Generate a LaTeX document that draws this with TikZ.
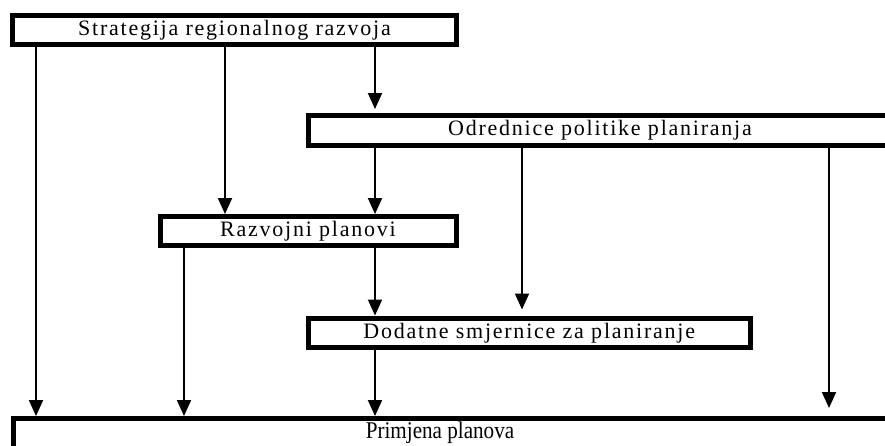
\documentclass[tikz,border=0pt]{standalone}
\usepackage{fontspec}
\setmainfont{Liberation Serif}
\usepackage{tikz}
\usetikzlibrary{arrows.meta}
\usetikzlibrary{calc}

\tikzset{
  kutija/.style={draw=black, line width=5pt, fill=white, inner sep=0pt,
    font=\fontsize{22}{22}\selectfont\addfontfeature{LetterSpace=8}},
  strelica/.style={line width=2pt, -{Triangle[width=14pt,length=16pt]}}
}

\begin{document}
\begin{tikzpicture}[x=1pt,y=-1pt]
  \useasboundingbox (0,0) rectangle (885,445);
  %% kutije
  \node[kutija, minimum width=444pt, minimum height=29pt] (strat) at (234.5,30) {Strategija regionalnog razvoja};
  \node[kutija, minimum width=584pt, minimum height=29.5pt] (odr) at (600,130.25) {Odrednice politike planiranja};
  \node[kutija, minimum width=296pt, minimum height=29pt] (razv) at (308,231) {Razvojni planovi};
  \node[kutija, minimum width=442.5pt, minimum height=29.5pt] (dod) at (529.25,332.75) {Dodatne smjernice za planiranje};
  \node[kutija, minimum width=987pt, minimum height=51.5pt] (prim) at (506.5,444.25) {};
  \node[font=\fontsize{24}{24}\selectfont\addfontfeature{FakeStretch=0.88}, inner sep=0pt] (primtekst) at (440,433) {Primjena planova};
  %% x polozaji strelica
  \coordinate (xa) at (36,0);
  \coordinate (xb) at (225,0);
  \coordinate (xc) at (375,0);
  \coordinate (xd) at (184,0);
  \coordinate (xe) at (522,0);
  \coordinate (xf) at (829,0);
  %% strelice
  \foreach \kx/\iz/\u in {xa/strat/prim, xb/strat/razv, xc/odr/razv, xd/razv/prim, xc/razv/dod, xc/dod/prim}
    \draw[strelica] (\iz.south -| \kx) -- (\u.north -| \kx);
  \draw[strelica, shorten >=4pt] (strat.south -| xc) -- (odr.north -| xc);
  \draw[strelica, shorten >=6pt] (odr.south -| xe) -- (dod.north -| xe);
  \draw[strelica, shorten >=8pt] (odr.south -| xf) -- (prim.north -| xf);
\end{tikzpicture}
\end{document}
